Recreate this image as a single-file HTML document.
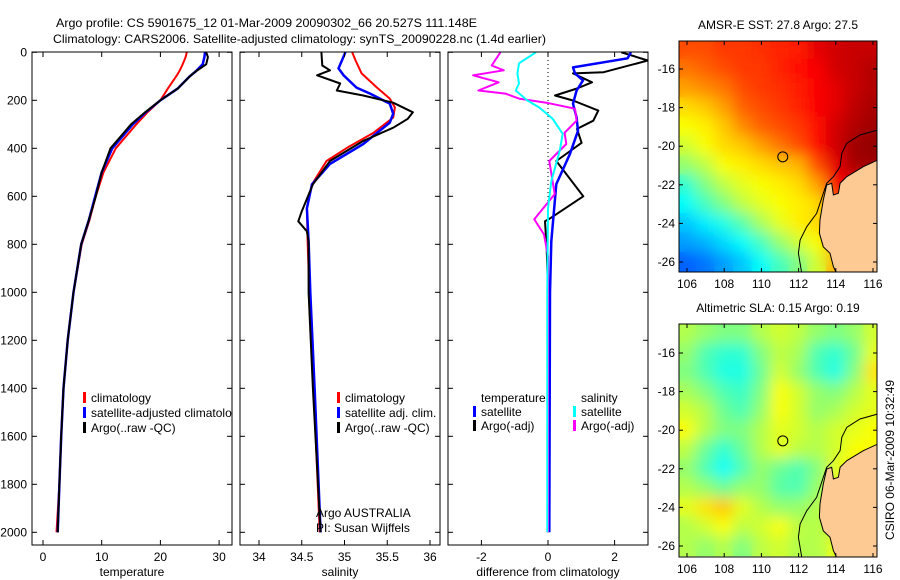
<!DOCTYPE html>
<html><head><meta charset="utf-8"><style>
body{margin:0;background:#fff;}
#wrap{position:relative;width:900px;height:580px;overflow:hidden;background:#fff;font-family:"Liberation Sans",sans-serif;}
svg{position:absolute;left:0;top:0;}
text{font-family:"Liberation Sans",sans-serif;font-size:12px;fill:#000;}
</style></head><body>
<div id="wrap">
<svg id="svg" width="900" height="580"></svg>
</div>
<script>
// ---- profile data (depth in m) ----
const tDepths=[0,20,50,80,100,150,200,250,300,400,500,600,700,800,1000,1200,1400,1600,1800,2000];
const tClim=[24.5,24.3,23.8,23.2,22.7,21.3,20.0,17.8,15.9,12.4,10.3,9.0,7.9,6.6,5.2,4.2,3.5,3.1,2.8,2.3];
const tSat=[27.6,27.5,27.2,26.0,25.0,23.0,20.0,17.5,15.3,11.8,10.0,8.9,7.8,6.5,5.2,4.2,3.5,3.1,2.8,2.5];
const tArgo=[27.8,28.1,27.8,26.0,25.0,23.0,20.0,17.4,15.0,11.5,10.0,9.0,7.8,6.5,5.2,4.2,3.5,3.1,2.8,2.5];
const sArgoD=[0,55,75,96,130,159,180,210,250,277,314,369,453,550,662,704,746,788,1000,1400,2000];
const sArgo=[34.73,34.74,34.83,34.68,34.95,34.91,35.22,35.57,35.80,35.74,35.57,35.22,34.83,34.63,34.50,34.46,34.56,34.58,34.58,34.63,34.72];
const sClimD=[0,34,88,147,193,230,272,335,398,453,550,650,800,1000,1400,2000];
const sClim=[35.09,35.13,35.2,35.38,35.53,35.59,35.57,35.34,35.03,34.79,34.62,34.56,34.57,34.59,34.64,34.71];
const sSatD=[0,34,67,96,147,172,214,256,293,382,465,550,650,788,1000,1400,2000];
const sSat=[35.01,34.97,34.93,34.99,35.14,35.3,35.53,35.57,35.53,35.22,34.83,34.62,34.56,34.58,34.6,34.65,34.72];
const dArgoTD=[0,34,83,88,125,151,180,201,243,285,319,377,453,600,692,704,818,1000,1400,2000];
const dArgoT=[2.2,3.0,1.67,0.75,1.32,0.87,0.21,0.75,1.51,1.36,0.87,1.01,0.25,1.06,0.06,-0.09,-0.04,0,0,0];
const dSatTD=[0,25,63,88,117,159,214,272,327,423,549,788,1000,2000];
const dSatT=[2.49,2.39,0.75,0.81,1.05,0.86,0.75,0.86,0.9,0.66,0.25,0.1,0.06,0.04];
const dSatSD=[0,46,88,130,159,201,230,277,340,411,537,650,1000,2000];
const dSatS=[-0.36,-0.87,-0.92,-0.87,-0.97,-0.62,-0.26,0.14,0.44,0.35,0.1,0,-0.02,-0.02];
const dArgoSD=[0,55,75,96,125,159,172,193,210,235,285,335,382,453,591,696,759,850,2000];
const dArgoS=[-1.43,-1.69,-1.33,-2.25,-1.48,-2.09,-1.28,-0.87,-0.05,0.81,0.86,0.5,0.55,0.04,0.2,-0.41,-0.12,0,0];
const depthTicks=[0,200,400,600,800,1000,1200,1400,1600,1800,2000];
const tTicks=[0,10,20,30];
const sTicks=[34,34.5,35,35.5,36];
const dTicks=[-2,0,2];
// ---- map data (jet index 0..1), rows lat -15..-26, cols lon 106..116 ----
const sstGrid=[
[.80,.80,.82,.82,.83,.84,.85,.90,.92,.93,.93],
[.76,.78,.80,.82,.82,.84,.86,.88,.92,.93,.95],
[.72,.74,.76,.80,.82,.83,.85,.88,.90,.93,.95],
[.66,.68,.72,.78,.80,.82,.84,.88,.90,.94,.96],
[.62,.64,.68,.74,.78,.80,.82,.86,.92,.95,.97],
[.58,.62,.66,.68,.72,.76,.80,.86,.92,.97,.98],
[.52,.56,.62,.64,.66,.68,.70,.80,.90,.96,.97],
[.42,.50,.56,.60,.62,.64,.66,.72,.88,.90,.90],
[.38,.44,.50,.56,.60,.62,.64,.66,.80,.85,.85],
[.32,.36,.40,.46,.54,.60,.64,.66,.75,.80,.80],
[.28,.30,.34,.38,.44,.52,.58,.62,.70,.80,.80],
[.22,.24,.28,.32,.38,.44,.50,.58,.70,.80,.80]];
const slaGrid=[
[.55,.52,.50,.50,.55,.58,.56,.52,.50,.52,.58],
[.52,.45,.42,.42,.50,.56,.54,.45,.42,.48,.60],
[.50,.45,.40,.40,.48,.58,.52,.45,.40,.50,.65],
[.54,.50,.45,.43,.50,.62,.58,.52,.50,.55,.60],
[.58,.55,.48,.45,.52,.62,.58,.52,.54,.58,.60],
[.62,.55,.50,.50,.55,.60,.58,.55,.58,.60,.62],
[.56,.48,.42,.48,.55,.60,.56,.55,.58,.62,.62],
[.52,.45,.38,.45,.52,.48,.45,.50,.60,.62,.62],
[.55,.52,.48,.52,.52,.46,.45,.52,.60,.60,.60],
[.60,.65,.68,.60,.55,.52,.52,.55,.58,.60,.60],
[.55,.58,.62,.56,.58,.62,.56,.55,.58,.60,.60],
[.55,.52,.55,.50,.56,.58,.55,.55,.60,.60,.60]];
const gridLon=[106,107,108,109,110,111,112,113,114,115,116];
const gridLat=[-15,-16,-17,-18,-19,-20,-21,-22,-23,-24,-25,-26];
const landLon=[116.25,115.48,114.59,114.23,114.14,113.87,113.78,113.51,113.33,113.15,113.12,113.33,113.69,113.87,114.05,116.5];
const landLat=[-20.72,-21.06,-21.58,-21.92,-22.44,-22.53,-21.92,-22.01,-22.79,-23.82,-24.51,-25.21,-25.55,-26.24,-26.6,-26.6];
const isoLon=[116.25,115.3,114.59,114.32,114.23,113.87,113.51,113.33,112.97,112.44,112.08,111.99,112.17];
const isoLat=[-19.16,-19.42,-19.85,-20.37,-21.06,-21.58,-21.92,-22.44,-23.48,-24.17,-24.86,-25.55,-26.6];
const floatLon=111.15, floatLat=-20.55;
const lonTicks=[106,108,110,112,114,116];
const latTicks=[-16,-18,-20,-22,-24,-26];

const NS='http://www.w3.org/2000/svg';
const svg=document.getElementById('svg');
function el(tag,attrs,parent){const e=document.createElementNS(NS,tag);for(const k in attrs)e.setAttribute(k,attrs[k]);(parent||svg).appendChild(e);return e;}
function txt(x,y,s,anchor,parent){const t=el('text',{x:x,y:y,'text-anchor':anchor||'start'},parent);t.textContent=s;return t;}

const Y=d=>52.3+d*0.24;
const panels=[
 {x0:32,x1:232,X:v=>43+v*5.87,ticks:tTicks,label:'temperature',name:'temperature-panel'},
 {x0:240,x1:440,X:v=>259+(v-34)*85.5,ticks:sTicks,label:'salinity',name:'salinity-panel'},
 {x0:448,x1:648,X:v=>548+v*33.3,ticks:dTicks,label:'difference from climatology',name:'difference-panel'}];
const defs=el('defs',{});
const flt=el('filter',{id:'blur',x:'-10%',y:'-10%',width:'120%',height:'120%'},defs);
el('feGaussianBlur',{stdDeviation:'7'},flt);
panels.forEach((p,i)=>{
 const cp=el('clipPath',{id:'cp'+i},defs);el('rect',{x:p.x0,y:52,width:p.x1-p.x0,height:493},cp);
 const g=el('g',{});
 
 
 p.g=el('g',{'clip-path':'url(#cp'+i+')'},g);
 p.frame=g;
});
function line(p,depths,vals,color,w,name){
 const pts=depths.map((d,i)=>p.X(vals[i]).toFixed(1)+','+Y(d).toFixed(1)).join(' ');
 const pl=el('polyline',{points:pts,fill:'none',stroke:color,'stroke-width':w,'stroke-linejoin':'round'},p.g);
 
 
}
const [P1,P2,P3]=panels;
line(P1,tDepths,tClim,'#f00',2,'temperature-climatology-line');
line(P1,tDepths,tSat,'#00f',2.5,'temperature-satellite-line');
line(P1,tDepths,tArgo,'#000',2,'temperature-argo-line');
line(P2,sClimD,sClim,'#f00',2,'salinity-climatology-line');
line(P2,sSatD,sSat,'#00f',2.5,'salinity-satellite-line');
line(P2,sArgoD,sArgo,'#000',2,'salinity-argo-line');
el('line',{x1:P3.X(0),x2:P3.X(0),y1:52,y2:260,stroke:'#000','stroke-width':1,'stroke-dasharray':'1,3'},P3.g);
line(P3,dArgoTD,dArgoT,'#000',2,'temp-argo-diff-line');
line(P3,dSatTD,dSatT,'#00f',2.5,'temp-satellite-diff-line');
line(P3,dArgoSD,dArgoS,'#f0f',2,'sal-argo-diff-line');
line(P3,dSatSD,dSatS,'#0ff',2,'sal-satellite-diff-line');

panels.forEach((p,i)=>{
 el('rect',{x:p.x0,y:52,width:p.x1-p.x0,height:493,fill:'none',stroke:'#000','stroke-width':1},p.frame);
 depthTicks.forEach(d=>{
  el('line',{x1:p.x0,x2:p.x0+5,y1:Y(d),y2:Y(d),stroke:'#000'},p.frame);
  el('line',{x1:p.x1-5,x2:p.x1,y1:Y(d),y2:Y(d),stroke:'#000'},p.frame);
  if(i==0){txt(27,Y(d)+4,String(d),'end',p.frame);}
 });
 p.ticks.forEach(v=>{
  el('line',{x1:p.X(v),x2:p.X(v),y1:52,y2:57,stroke:'#000'},p.frame);
  el('line',{x1:p.X(v),x2:p.X(v),y1:540,y2:545,stroke:'#000'},p.frame);
  txt(p.X(v),561,String(v),'middle',p.frame);
 });
 const xl=txt((p.x0+p.x1)/2,576,p.label,'middle',p.frame);
 
 
});
function legendEntry(parent,x,y,color,label){
 const g=el('g',{},parent);
 
 
 el('rect',{x:x,y:y-10,width:3,height:11,fill:color},g);
 txt(x+8,y,label,'start',g);
}
const lg1=el('g',{'clip-path':'url(#cp0)'});
legendEntry(lg1,83,402,'#f00','climatology');legendEntry(lg1,83,417,'#00f','satellite-adjusted climatology');legendEntry(lg1,83,432,'#000','Argo(..raw -QC)');
const lg2=el('g',{});
legendEntry(lg2,337,402,'#f00','climatology');legendEntry(lg2,337,417,'#00f','satellite adj. clim.');legendEntry(lg2,337,432,'#000','Argo(..raw -QC)');
const lg3=el('g',{});
txt(481,402,'temperature','start',lg3);txt(581,402,'salinity','start',lg3);
legendEntry(lg3,473,416,'#00f','satellite');legendEntry(lg3,473,430,'#000','Argo(-adj)');
legendEntry(lg3,573,416,'#0ff','satellite');legendEntry(lg3,573,430,'#f0f','Argo(-adj)');
txt(316,517,'Argo AUSTRALIA');
txt(316,532,'PI: Susan Wijffels');
const t1=el('text',{x:56,y:27,'font-size':'14',textLength:'421',lengthAdjust:'spacingAndGlyphs'});t1.textContent='Argo profile: CS 5901675_12 01-Mar-2009 20090302_66 20.527S 111.148E';

const t2=el('text',{x:53,y:43,'font-size':'14',textLength:'493',lengthAdjust:'spacingAndGlyphs'});t2.textContent='Climatology: CARS2006. Satellite-adjusted climatology: synTS_20090228.nc (1.4d earlier)';


// ---- maps ----
function jet(v){v=Math.max(0,Math.min(1,v));const r=Math.min(4*v-1.5,-4*v+4.5),g=Math.min(4*v-0.5,-4*v+3.5),b=Math.min(4*v+0.5,-4*v+2.5);
 const c=x=>Math.round(255*Math.max(0,Math.min(1,x)));return 'rgb('+c(r)+','+c(g)+','+c(b)+')';}
function map(top,latAt16,grid,title,name){
 const g=el('g',{});
 const H=top==41?231:233;
 const LX=lon=>687+(lon-106)*18.6, LY=lat=>latAt16+(-16-lat)*19.3;
 const cid='mc'+top;const cp=el('clipPath',{id:cid},defs);el('rect',{x:679,y:top,width:198,height:H},cp);
 const inner=el('g',{'clip-path':'url(#'+cid+')'},g);
 const base=el('g',{},inner);
 const blur=el('g',{filter:'url(#blur)'},inner);
 grid.forEach((row,r)=>row.forEach((v,c)=>{
  [base,blur].forEach(par=>{
   const cell=el('rect',{x:LX(gridLon[c]-0.5)-0.5,y:LY(gridLat[r]+0.5)-0.5,width:19.6,height:20.3,fill:jet(v)},par);
   
   
  });
 }));
 const land=el('polygon',{points:landLon.map((l,i)=>LX(l).toFixed(1)+','+LY(landLat[i]).toFixed(1)).join(' ')+' 880,'+(top+H+5),fill:'#fdca94',stroke:'#000','stroke-width':1},inner);
 
 const iso=el('polyline',{points:isoLon.map((l,i)=>LX(l).toFixed(1)+','+LY(isoLat[i]).toFixed(1)).join(' '),fill:'none',stroke:'#000','stroke-width':1},inner);
 
 const c=el('circle',{cx:LX(floatLon),cy:LY(floatLat),r:5,fill:'none',stroke:'#000','stroke-width':1},inner);
 
 el('rect',{x:679,y:top,width:198,height:H,fill:'none',stroke:'#000'},g);
 lonTicks.forEach(l=>{el('line',{x1:LX(l),x2:LX(l),y1:top,y2:top+4,stroke:'#000'},g);el('line',{x1:LX(l),x2:LX(l),y1:top+H-4,y2:top+H,stroke:'#000'},g);txt(LX(l),top+H+16,String(l),'middle',g);});
 latTicks.forEach(l=>{el('line',{x1:679,x2:683,y1:LY(l),y2:LY(l),stroke:'#000'},g);el('line',{x1:873,x2:877,y1:LY(l),y2:LY(l),stroke:'#000'},g);txt(675,LY(l)+4,String(l),'end',g);});
 const tt=txt(778,top-12,title,'middle',g);
}
map(41,69,sstGrid,'AMSR-E SST: 27.8 Argo: 27.5','sst-map');
map(324,353,slaGrid,'Altimetric SLA: 0.15 Argo: 0.19','sla-map');
const st=el('text',{x:0,y:0,'text-anchor':'middle',transform:'translate(894,460) rotate(-90)'});st.textContent='CSIRO 06-Mar-2009 10:32:49';

</script>
</body></html>
